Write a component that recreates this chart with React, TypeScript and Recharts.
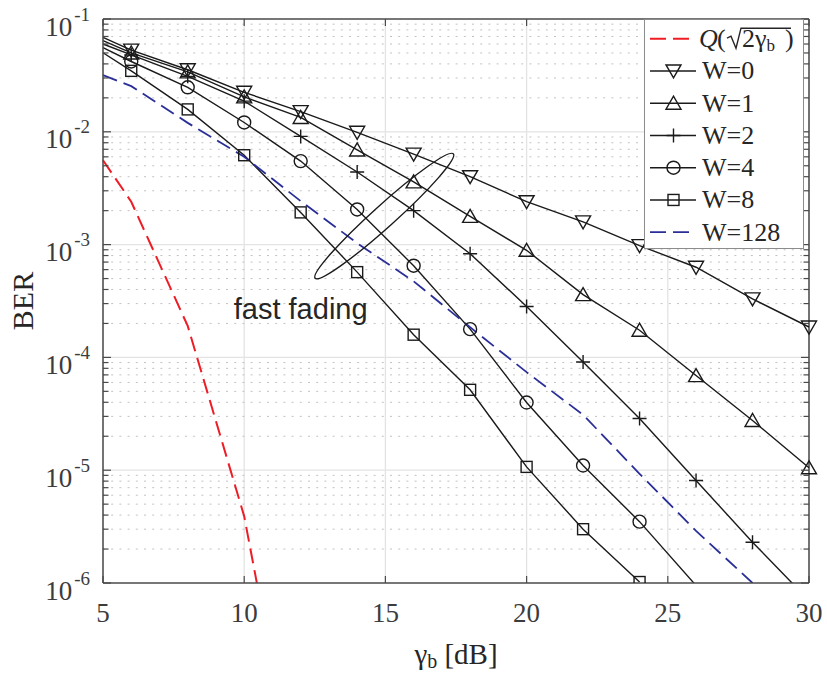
import { LineChart, Line, XAxis, YAxis, CartesianGrid, ReferenceLine, ReferenceDot, Legend } from 'recharts'

// SNR grid (dB) shared by every curve
const gammaDb = [5, 6, 8, 10, 12, 14, 16, 18, 20, 22, 24, 26, 28, 30]

// BER values
const berAwgn = [5.6e-3, 2.4e-3, 1.9e-4, 3.9e-6, 9e-9, null, null, null, null, null, null, null, null, null]
const berW0 = [0.0686, 0.053, 0.0355, 0.0224, 0.0151, 0.0099, 0.00634, 0.004, 0.0024, 0.00159, 0.00098, 0.00063, 0.00033, 0.000186]
const berW1 = [0.0642, 0.05, 0.034, 0.0204, 0.0134, 0.0069, 0.0036, 0.00178, 0.00089, 0.00036, 0.000174, 6.9e-5, 2.76e-5, 1.05e-5]
const berW2 = [0.06, 0.048, 0.031, 0.0187, 0.0091, 0.0044, 0.002, 0.00083, 0.000283, 9.1e-5, 2.87e-5, 8.1e-6, 2.3e-6, 7e-7]
const berW4 = [0.0558, 0.042, 0.0248, 0.0121, 0.0055, 0.00205, 0.00065, 0.000178, 3.98e-5, 1.1e-5, 3.5e-6, 9.5e-7, null, null]
const berW8 = [0.0502, 0.0347, 0.0158, 0.0062, 0.00193, 0.00057, 0.000159, 5.16e-5, 1.07e-5, 3.0e-6, 1.02e-6, null, null, null]
const berW128 = [0.0318, 0.0254, 0.012, 0.006, 0.00243, 0.00103, 0.000473, 0.000185, 7.4e-5, 3.1e-5, 9.3e-6, 2.9e-6, 1.0e-6, null]

const seriesNames = ['W=0', 'W=1', 'W=2', 'W=4', 'W=8', 'W=128']

const xTicks = [5, 10, 15, 20, 25, 30]
const yMajorTicks = [1e-6, 1e-5, 1e-4, 1e-3, 1e-2, 1e-1]
const yTickExponents = ['-6', '-5', '-4', '-3', '-2', '-1']
const yMinorTicks = yMajorTicks.slice(0, 5).flatMap((d) => [2, 3, 4, 5, 6, 7, 8, 9].map((k) => k * d))

// annotation anchors (data coords)
const ellipseAt = { x: 14.96, y: 1.79e-3 }
const annotationAt = { x: 12.0, y: 2.7e-4 }

const data = gammaDb.map((g, i) => ({
    g,
    awgn: berAwgn[i],
    w0: berW0[i],
    w1: berW1[i],
    w2: berW2[i],
    w4: berW4[i],
    w8: berW8[i],
    w128: berW128[i],
}))

const PLOT_W = 706
const PLOT_H = 564
const SERIF = "'Liberation Serif', 'Times New Roman', serif"
const AXIS = '#4a4a4a'
const INK = '#1a1a1a'
const RED = '#ee1c25'
const BLUE = '#2a2f98'

type MarkerType = 'down' | 'up' | 'plus' | 'circle' | 'square'

function Marker({ type, cx, cy }: { type: MarkerType; cx: number; cy: number }) {
    const s = { fill: 'none', stroke: INK, strokeWidth: 1.4 }
    if (type === 'down') return <polygon points={`${cx - 7.5},${cy - 6} ${cx + 7.5},${cy - 6} ${cx},${cy + 7}`} {...s} />
    if (type === 'up') return <polygon points={`${cx - 7.5},${cy + 6} ${cx + 7.5},${cy + 6} ${cx},${cy - 7}`} {...s} />
    if (type === 'plus') return <path d={`M${cx - 7},${cy}H${cx + 7}M${cx},${cy - 7}V${cy + 7}`} {...s} />
    if (type === 'circle') return <circle cx={cx} cy={cy} r={6.5} {...s} />
    return <rect x={cx - 5.5} y={cy - 5.5} width={11} height={11} {...s} />
}

const makeDot = (type: MarkerType) => (props: any) => {
    const { cx, cy, index, value } = props
    const v = Array.isArray(value) ? value[1] : value
    if (index === 0 || v == null || cx == null || cy == null || v < 1e-6) return <g key={`d-${type}-${index}`} />
    return (
        <g key={`d-${type}-${index}`}>
            <Marker type={type} cx={cx} cy={cy} />
        </g>
    )
}

const YTick = (props: any) => {
    const { x, y, payload } = props
    const v = payload.value
    const idx = yMajorTicks.findIndex((m) => Math.abs(m - v) / m < 1e-6)
    const len = idx >= 0 ? 8 : 5.5
    return (
        <g>
            <line x1={x} x2={x + len} y1={y} y2={y} stroke={AXIS} strokeWidth={1.2} />
            <line x1={x + PLOT_W - len} x2={x + PLOT_W} y1={y} y2={y} stroke={AXIS} strokeWidth={1.2} />
            {idx >= 0 && (
                <text x={x - 13} y={y + 16.5} textAnchor="end" fontFamily={SERIF} fontSize={27} fill="#3c3c3c">
                    10
                    <tspan dx={2} dy={-15} fontSize={19}>
                        {yTickExponents[idx]}
                    </tspan>
                </text>
            )}
        </g>
    )
}

const XTick = (props: any) => {
    const { x, y, payload } = props
    return (
        <g>
            <line x1={x} x2={x} y1={y} y2={y - 7} stroke={AXIS} strokeWidth={1.2} />
            <line x1={x} x2={x} y1={y - PLOT_H} y2={y - PLOT_H + 7} stroke={AXIS} strokeWidth={1.2} />
            <text x={x} y={y + 39} textAnchor="middle" fontFamily={SERIF} fontSize={27} fill="#3c3c3c">
                {payload.value}
            </text>
        </g>
    )
}

const XLabel = (props: any) => {
    const vb = props.viewBox
    const cx = vb.x + vb.width / 2
    return (
        <text x={cx} y={vb.y + 81} textAnchor="middle" fontFamily={SERIF} fontSize={29} fill="#262626">
            γ
            <tspan fontSize={20} dy={4}>
                b
            </tspan>
            <tspan dy={-4}> [dB]</tspan>
        </text>
    )
}

const YLabel = (props: any) => {
    const vb = props.viewBox
    const cy = vb.y + vb.height / 2
    return (
        <text x={33} y={cy} transform={`rotate(-90 33 ${cy})`} textAnchor="middle" fontFamily={SERIF} fontSize={30} fill="#262626">
            BER
        </text>
    )
}

const legendMarkers: MarkerType[] = ['down', 'up', 'plus', 'circle', 'square']

const LegendBox = () => {
    const rowY = (i: number) => 18.7 + i * 32.25
    const bl0 = rowY(0) + 8.5
    return (
        <div style={{ width: 160, height: 230, background: '#fff', border: '1px solid #8c8c8c', boxSizing: 'border-box' }}>
            <svg width={158} height={228} style={{ display: 'block' }}>
                <line x1={5} x2={51} y1={rowY(0)} y2={rowY(0)} stroke={RED} strokeWidth={2} strokeDasharray="16 7" />
                <text y={bl0} fontFamily={SERIF} fontSize={26} fill="#262626">
                    <tspan x={54} fontStyle="italic">Q</tspan>
                    <tspan x={72}>(</tspan>
                    <tspan x={97}>2γ</tspan>
                    <tspan fontSize={17} dy={4}>b</tspan>
                    <tspan x={140} dy={-4}>)</tspan>
                </text>
                <path d={`M82,${bl0 - 9} L86,${bl0 - 11} L91,${bl0 + 1} L96,${bl0 - 19} L146,${bl0 - 19}`} fill="none" stroke="#262626" strokeWidth={1.4} />
                {seriesNames.map((name, i) => {
                    const y = rowY(i + 1)
                    const isLast = i === seriesNames.length - 1
                    return (
                        <g key={name}>
                            <line
                                x1={5}
                                x2={51}
                                y1={y}
                                y2={y}
                                stroke={isLast ? BLUE : INK}
                                strokeWidth={isLast ? 1.8 : 1.4}
                                strokeDasharray={isLast ? '16 7' : undefined}
                            />
                            {!isLast && <Marker type={legendMarkers[i]} cx={28.5} cy={y} />}
                            <text x={57} y={y + 8.5} fontFamily={SERIF} fontSize={26} fill="#262626">
                                {name}
                            </text>
                        </g>
                    )
                })}
            </svg>
        </div>
    )
}

export default function App() {
    return (
        <div style={{ position: 'absolute', left: 0, top: 0, width: 827, height: 673, background: '#fff' }}>
            <LineChart width={827} height={673} data={data} margin={{ top: 19, right: 18, bottom: 0, left: 0 }}>
                <CartesianGrid horizontal={false} stroke="#e3e3e3" strokeWidth={1.3} />
                {yMinorTicks.map((v) => (
                    <ReferenceLine key={`mn-${v}`} y={v} stroke="#c2c2c2" strokeWidth={1} strokeDasharray="2 6.2" />
                ))}
                {yMajorTicks.slice(1, 5).map((v) => (
                    <ReferenceLine key={`mj-${v}`} y={v} stroke="#e3e3e3" strokeWidth={1.3} />
                ))}
                <XAxis
                    dataKey="g"
                    type="number"
                    domain={[5, 30]}
                    ticks={xTicks}
                    interval={0}
                    height={90}
                    tickSize={0}
                    tickMargin={0}
                    tickLine={false}
                    axisLine={{ stroke: AXIS, strokeWidth: 1.5 }}
                    tick={XTick}
                    label={{ value: 'gamma', content: XLabel }}
                />
                <YAxis
                    type="number"
                    scale="log"
                    domain={[1e-6, 1e-1]}
                    allowDataOverflow
                    ticks={[...yMajorTicks, ...yMinorTicks]}
                    interval={0}
                    width={103}
                    tickSize={0}
                    tickMargin={0}
                    tickLine={false}
                    axisLine={{ stroke: AXIS, strokeWidth: 1.5 }}
                    tick={YTick}
                    label={{ value: 'BER', content: YLabel }}
                />
                <ReferenceLine y={1e-1} stroke={AXIS} strokeWidth={1.5} />
                <ReferenceLine x={30} stroke={AXIS} strokeWidth={1.5} />
                <Line dataKey="awgn" name="Q" stroke={RED} strokeWidth={2} strokeDasharray="15 7" dot={false} activeDot={false} isAnimationActive={false} />
                <Line dataKey="w0" name={seriesNames[0]} stroke={INK} strokeWidth={1.4} dot={makeDot('down')} activeDot={false} isAnimationActive={false} />
                <Line dataKey="w1" name={seriesNames[1]} stroke={INK} strokeWidth={1.4} dot={makeDot('up')} activeDot={false} isAnimationActive={false} />
                <Line dataKey="w2" name={seriesNames[2]} stroke={INK} strokeWidth={1.4} dot={makeDot('plus')} activeDot={false} isAnimationActive={false} />
                <Line dataKey="w4" name={seriesNames[3]} stroke={INK} strokeWidth={1.4} dot={makeDot('circle')} activeDot={false} isAnimationActive={false} />
                <Line dataKey="w8" name={seriesNames[4]} stroke={INK} strokeWidth={1.4} dot={makeDot('square')} activeDot={false} isAnimationActive={false} />
                <Line dataKey="w128" name={seriesNames[5]} stroke={BLUE} strokeWidth={1.8} strokeDasharray="15 7" dot={false} activeDot={false} isAnimationActive={false} />
                <ReferenceDot
                    x={ellipseAt.x}
                    y={ellipseAt.y}
                    r={0}
                    shape={(p: any) => (
                        <ellipse cx={p.cx} cy={p.cy} rx={93} ry={11} transform={`rotate(-42 ${p.cx} ${p.cy})`} fill="none" stroke={INK} strokeWidth={1.4} />
                    )}
                />
                <ReferenceDot
                    x={annotationAt.x}
                    y={annotationAt.y}
                    r={0}
                    shape={(p: any) => (
                        <text x={p.cx} y={p.cy + 10} textAnchor="middle" fontFamily="'Liberation Sans', Arial, sans-serif" fontSize={29} fill="#262626">
                            fast fading
                        </text>
                    )}
                />
                <Legend
                    layout="vertical"
                    align="center"
                    verticalAlign="middle"
                    content={LegendBox}
                    wrapperStyle={{ left: 644, top: 19 }}
                />
            </LineChart>
        </div>
    )
}
